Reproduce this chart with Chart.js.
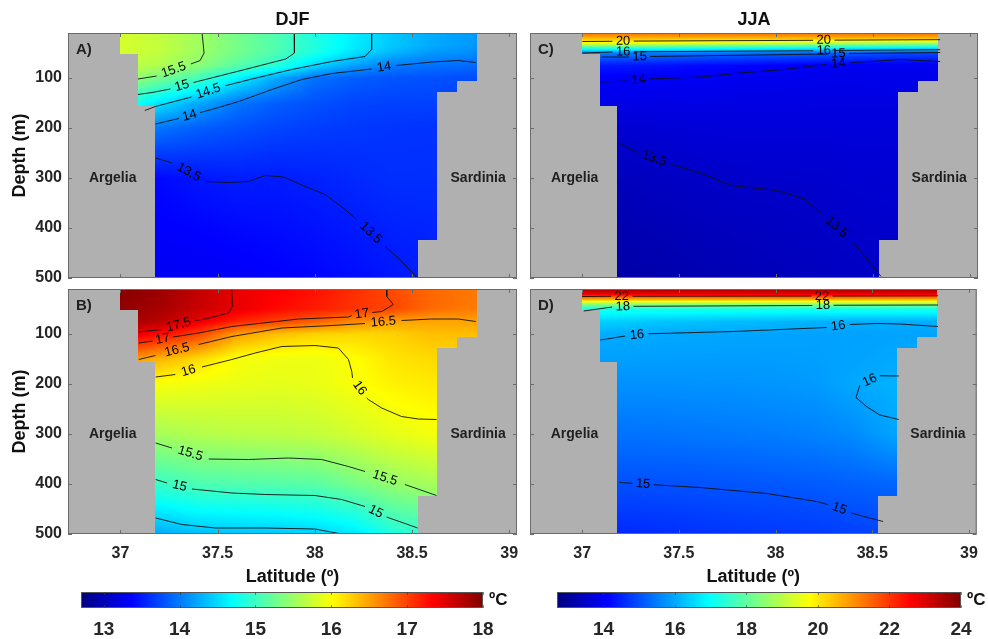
<!DOCTYPE html>
<html><head><meta charset="utf-8">
<script src="https://cdn.jsdelivr.net/npm/chart.js@4.4.1/dist/chart.umd.min.js"></script>
<style>
html,body{margin:0;padding:0;background:#fff;}
#wrap{position:relative;width:988px;height:639px;overflow:hidden;background:#fff;}
canvas{position:absolute;left:0;top:0;}
</style></head><body>
<div id="wrap">
<canvas id="pA" width="988" height="639"></canvas>
<canvas id="pB" width="988" height="639"></canvas>
<canvas id="pC" width="988" height="639"></canvas>
<canvas id="pD" width="988" height="639"></canvas>
<canvas id="cb1" width="988" height="639"></canvas>
<canvas id="cb2" width="988" height="639"></canvas>
</div>
<script>
// ---------------- DATA ----------------
const latNodes   = [37.0, 37.2, 37.4, 37.6, 37.8, 38.0, 38.2, 38.4, 38.6, 38.85];
const depthNodes = [10, 20, 30, 40, 50, 75, 100, 150, 200, 300, 400, 500];

// Temperature (ºC) at depthNodes (rows) x latNodes (cols)
const tempA = [
 [15.80,15.70,15.52,15.30,15.10,14.85,14.60,14.40,14.25,14.15],
 [15.80,15.70,15.52,15.30,15.10,14.85,14.60,14.40,14.25,14.15],
 [15.80,15.70,15.52,15.30,15.10,14.85,14.60,14.40,14.25,14.15],
 [15.80,15.70,15.52,15.30,15.10,14.85,14.58,14.38,14.22,14.12],
 [15.78,15.68,15.50,15.28,15.08,14.82,14.52,14.30,14.15,14.08],
 [15.70,15.60,15.40,15.15,14.90,14.48,14.20,14.00,13.95,13.90],
 [15.55,15.30,15.05,14.65,14.25,13.95,13.85,13.80,13.78,13.75],
 [14.95,14.55,14.25,13.98,13.85,13.78,13.72,13.70,13.70,13.70],
 [14.40,13.97,13.85,13.78,13.72,13.68,13.65,13.63,13.62,13.62],
 [13.40,13.40,13.47,13.51,13.50,13.53,13.57,13.60,13.60,13.60],
 [13.35,13.35,13.37,13.40,13.42,13.45,13.49,13.53,13.55,13.55],
 [13.30,13.30,13.30,13.32,13.35,13.38,13.42,13.47,13.52,13.52]
];
const tempB = [
 [17.95,17.85,17.65,17.45,17.35,17.25,17.10,16.95,16.80,16.70],
 [17.95,17.85,17.65,17.45,17.35,17.25,17.10,16.96,16.80,16.70],
 [17.93,17.83,17.64,17.45,17.33,17.23,17.09,16.97,16.80,16.70],
 [17.92,17.82,17.63,17.46,17.32,17.22,17.08,16.98,16.80,16.70],
 [17.90,17.80,17.62,17.45,17.30,17.20,17.08,16.97,16.78,16.68],
 [17.85,17.70,17.45,17.15,17.00,16.85,16.62,16.50,16.48,16.50],
 [17.55,17.30,17.00,16.52,16.35,16.25,16.22,16.25,16.35,16.35],
 [16.60,16.40,16.20,15.98,15.93,15.92,16.00,16.15,16.20,16.20],
 [16.20,15.97,15.93,15.90,15.88,15.90,15.98,16.08,16.12,16.12],
 [15.55,15.55,15.62,15.65,15.67,15.70,15.78,15.88,15.95,15.95],
 [14.98,14.98,15.08,15.10,15.12,15.15,15.30,15.45,15.55,15.55],
 [14.25,14.25,14.35,14.38,14.40,14.45,14.55,14.85,14.95,14.95]
];
const tempC = [
 [21.40,21.40,21.40,21.40,21.40,21.40,21.40,21.40,21.40,21.40],
 [20.60,20.60,20.60,20.60,20.60,20.60,20.60,20.60,20.60,20.60],
 [19.70,19.70,19.60,19.50,19.40,19.30,19.20,19.00,18.90,18.85],
 [17.40,17.40,17.30,17.20,17.10,17.00,16.90,16.80,16.70,16.60],
 [15.50,15.50,15.45,15.40,15.35,15.30,15.20,15.10,15.00,14.95],
 [14.40,14.35,14.30,14.20,14.15,14.08,14.02,13.98,13.95,13.95],
 [14.05,14.05,14.02,14.00,13.95,13.92,13.90,13.88,13.87,13.87],
 [13.85,13.85,13.83,13.82,13.80,13.80,13.79,13.78,13.78,13.78],
 [13.65,13.62,13.65,13.68,13.70,13.70,13.70,13.70,13.70,13.70],
 [13.38,13.38,13.45,13.49,13.53,13.54,13.56,13.60,13.62,13.62],
 [13.25,13.25,13.30,13.35,13.40,13.43,13.47,13.52,13.55,13.55],
 [13.15,13.15,13.20,13.25,13.30,13.35,13.40,13.45,13.50,13.50]
];
const tempD = [
 [23.60,23.60,23.60,23.60,23.60,23.60,23.60,23.60,23.60,23.60],
 [22.80,22.80,22.80,22.80,22.80,22.80,22.80,22.80,22.80,22.80],
 [20.80,20.80,20.80,20.80,20.80,20.80,20.80,20.80,20.80,20.80],
 [18.60,18.60,18.60,18.60,18.60,18.60,18.60,18.60,18.60,18.60],
 [17.20,17.20,17.20,17.20,17.20,17.20,17.20,17.20,17.20,17.20],
 [16.45,16.40,16.30,16.25,16.20,16.15,16.10,16.05,16.05,16.05],
 [16.05,16.00,15.99,15.97,15.95,15.93,15.90,15.90,15.92,15.92],
 [15.88,15.88,15.87,15.86,15.85,15.86,15.88,15.92,15.97,15.97],
 [15.72,15.72,15.72,15.74,15.75,15.77,15.82,15.97,16.08,16.08],
 [15.38,15.38,15.40,15.43,15.46,15.50,15.55,15.65,15.92,15.92],
 [14.99,14.99,15.00,15.02,15.05,15.08,15.12,15.18,15.22,15.22],
 [14.55,14.55,14.60,14.65,14.70,14.72,14.75,14.82,14.88,14.88]
];

// Bathymetry (water column bottom depth per latitude band)
const shelfLat    = [37.0, 37.09, 37.18, 38.53, 38.63, 38.73, 38.835];
const shelfBottom = [52, 155, 520, 424, 128, 106];

// Contour lines (null = gap holding the label)
const contoursA = [
 {level:'15.5', lat:[37.42,37.43,37.41,37.362,null,37.186,37.09], dep:[10,50,65,72,null,96,102]},
 {level:'15',   lat:[37.894,37.895,37.85,37.64,37.376,null,37.257,37.162,37.09], dep:[10,50,62,83,109,null,122,129,133]},
 {level:'14.5', lat:[38.292,38.292,38.258,38.087,37.881,37.676,37.539,null,37.365,37.18,37.125], dep:[10,43,57,67,83,102,115.5,null,138,157,165]},
 {level:'14',   lat:[38.828,38.738,38.6,38.42,null,38.292,38.087,37.933,37.779,37.608,37.47,37.41,null,37.30,37.18], dep:[69,65,68,75,null,82,91,103,123,147,163,169,null,181,192]},
 {level:'13.5', lat:[37.181,37.265,null,37.437,37.556,37.659,37.745,37.839,37.95,38.053,38.156,38.215,null,38.361,38.43,38.523], dep:[260,270,null,307,309,307,295,298,317,333,363,383,null,437,460,498]}
];
const contoursB = [
 {level:'17.5', lat:[37.573,37.575,37.556,37.437,37.385,null,37.214,37.094], dep:[10,45,58,70,73,null,91,96]},
 {level:'17',   lat:[38.369,38.37,38.404,38.344,38.295,null,38.19,38.173,37.916,37.573,37.402,37.27,null,37.165,37.094], dep:[10,25,41,55,57,null,63,66,70,85,98,106,null,114,118]},
 {level:'16.5', lat:[37.094,37.18,null,37.402,37.573,37.83,38.087,38.258,null,38.446,38.6,38.738,38.828], dep:[151,143,null,121,105,88,83,79,null,73,70,70,75]},
 {level:'16',   lat:[37.181,37.282,null,37.419,37.573,37.693,37.83,38.0,38.121,38.173,38.19,38.194,null,38.267,38.275,38.344,38.446,38.532,38.626], dep:[186,181,null,166,151,138,125,123,128,151,175,188,null,228,231,248,265,270,271]},
 {level:'15.5', lat:[37.181,37.265,null,37.454,37.659,37.864,38.035,38.173,38.258,null,38.463,38.626], dep:[318,328,null,350,351,348,351,365,375,null,401,423]},
 {level:'15',   lat:[37.181,37.24,null,37.368,37.573,37.745,38.0,38.138,38.258,null,38.369,38.529], dep:[391,398,null,410,418,421,423,431,445,null,466,488]},
 {level:'14.5', lat:[37.181,37.316,37.488,37.745,38.0,38.138], dep:[468,481,488,488,490,500]}
];
const contoursC = [
 {level:'20', lat:[37.0,37.155,null,37.265,38.19,null,38.30,38.845], dep:[27,26.6,null,26.2,24.6,null,24.3,23.4]},
 {level:'16', lat:[37.0,37.155,null,37.265,38.19,null,38.30,38.845], dep:[50,48,null,47.5,45.5,null,45,43.4]},
 {level:'15', lat:[37.1,37.24,null,37.35,38.265,null,38.375,38.845], dep:[58,58,null,57,52,null,51,49]},
 {level:'14', lat:[37.1,37.235,null,37.345,37.61,37.782,38.04,38.255,null,38.385,38.436,38.642,38.845], dep:[108,106,null,102,98,91,83,73,null,69,68,63,67]},
 {level:'13.5', lat:[37.192,37.284,null,37.456,37.61,37.765,38.006,38.144,38.23,null,38.393,38.47,38.54], dep:[230,249,null,273,290,315,325,342,370,null,427,463,497]}
];
const contoursD = [
 {level:'22', lat:[37.0,37.15,null,37.26,38.185,null,38.295,38.84], dep:[25,24.5,null,24.5,24,null,24,23.5]},
 {level:'18', lat:[37.008,37.155,null,37.265,38.19,null,38.30,38.84], dep:[54,46,null,44.6,43,null,42.5,42]},
 {level:'16', lat:[37.094,37.223,null,37.344,37.782,38.264,null,38.384,38.522,38.642,38.84], dep:[112,104,null,99.5,95,87,null,81,79,80,85]},
 {level:'16', lat:[38.637,38.539,null,38.436,38.416,38.47,38.539,38.637], dep:[184,183.5,null,202,227,245,262,271]},
 {level:'15', lat:[37.192,37.26,null,37.37,37.61,37.954,38.212,38.27,null,38.39,38.556], dep:[397,398.5,null,401.5,407,419,435,441,null,458,475]}
];

const latTicks   = [37, 37.5, 38, 38.5, 39];
const depthTicks = [100, 200, 300, 400, 500];
const cbTicksDJF = [13, 14, 15, 16, 17, 18];
const cbTicksJJA = [14, 16, 18, 20, 22, 24];
const landNames  = ['Argelia', 'Sardinia'];
const landNameLat = [36.96, 38.84];
const landNameDepth = 300;

// ---------------- RENDERING ----------------
const FONT = '"Liberation Sans", Arial, Helvetica, sans-serif';
const TXT = '#1f1f1f';
const LAND = [176, 176, 176];
const EDGE = '#6b6b6b';
Chart.defaults.font.family = FONT;

function locate(nodes, v) {
  const n = nodes.length;
  if (v <= nodes[0]) return [0, 0];
  if (v >= nodes[n - 1]) return [n - 2, 1];
  let i = 0;
  while (v > nodes[i + 1]) i++;
  return [i, (v - nodes[i]) / (nodes[i + 1] - nodes[i])];
}
function sample(grid, lat, dep) {
  const [i, fx] = locate(latNodes, lat);
  const [j, fy] = locate(depthNodes, dep);
  const a = grid[j][i], b = grid[j][i + 1], c = grid[j + 1][i], d = grid[j + 1][i + 1];
  return a * (1 - fx) * (1 - fy) + b * fx * (1 - fy) + c * (1 - fx) * fy + d * fx * fy;
}
function isWater(lat, dep) {
  for (let k = 0; k < shelfLat.length - 1; k++) {
    if (lat >= shelfLat[k] && lat < shelfLat[k + 1]) return dep <= shelfBottom[k];
  }
  return false;
}
function jet(t) {
  t = Math.max(0, Math.min(1, t));
  const f = v => Math.max(0, Math.min(1, v)) * 255;
  return [f(1.5 - Math.abs(4 * t - 3)), f(1.5 - Math.abs(4 * t - 2)), f(1.5 - Math.abs(4 * t - 1))];
}

function makePanel(id, area, grid, cmin, cmax, contours, cfg) {
  const plugin = {
    id: 'sectionField',
    beforeDatasetsDraw(chart) {
      const {ctx, chartArea: a, scales: {x, y}} = chart;
      const w = Math.round(a.right - a.left), h = Math.round(a.bottom - a.top);
      const off = document.createElement('canvas');
      off.width = w; off.height = h;
      const octx = off.getContext('2d');
      const img = octx.createImageData(w, h);
      const lats = [];
      for (let i = 0; i < w; i++) lats.push(x.getValueForPixel(a.left + i + 0.5));
      for (let j = 0; j < h; j++) {
        const dep = y.getValueForPixel(a.top + j + 0.5);
        for (let i = 0; i < w; i++) {
          const p = (j * w + i) * 4;
          const c = isWater(lats[i], dep) ? jet((sample(grid, lats[i], dep) - cmin) / (cmax - cmin)) : LAND;
          img.data[p] = c[0]; img.data[p + 1] = c[1]; img.data[p + 2] = c[2]; img.data[p + 3] = 255;
        }
      }
      octx.putImageData(img, 0, 0);
      ctx.drawImage(off, a.left, a.top);
    },
    afterDatasetsDraw(chart) {
      const {ctx, chartArea: a, scales: {x, y}} = chart;
      ctx.save();
      // contour labels
      ctx.fillStyle = '#000';
      ctx.font = '13px ' + FONT;
      ctx.textAlign = 'center'; ctx.textBaseline = 'middle';
      contours.forEach(c => {
        for (let i = 1; i < c.lat.length - 1; i++) {
          if (c.lat[i] !== null) continue;
          const x1 = x.getPixelForValue(c.lat[i - 1]), y1 = y.getPixelForValue(c.dep[i - 1]);
          const x2 = x.getPixelForValue(c.lat[i + 1]), y2 = y.getPixelForValue(c.dep[i + 1]);
          let ang = Math.atan2(y2 - y1, x2 - x1);
          if (ang > Math.PI / 2) ang -= Math.PI;
          if (ang < -Math.PI / 2) ang += Math.PI;
          ctx.save();
          ctx.translate((x1 + x2) / 2, (y1 + y2) / 2);
          ctx.rotate(ang);
          ctx.fillText(c.level, 0, 0);
          ctx.restore();
        }
      });
      // land names
      ctx.fillStyle = TXT;
      ctx.font = 'bold 14px ' + FONT;
      landNames.forEach((n, k) => ctx.fillText(n, x.getPixelForValue(landNameLat[k]), y.getPixelForValue(landNameDepth)));
      // panel letter
      ctx.font = 'bold 15px ' + FONT;
      ctx.textAlign = 'left';
      ctx.fillText(cfg.letter, a.left + 8, a.top + 17);
      // border and inward ticks
      ctx.strokeStyle = EDGE; ctx.lineWidth = 1;
      ctx.strokeRect(a.left + 0.5, a.top + 0.5, a.right - a.left - 1, a.bottom - a.top - 1);
      ctx.beginPath();
      latTicks.forEach(v => {
        const px = Math.round(x.getPixelForValue(v)) + 0.5;
        ctx.moveTo(px, a.bottom); ctx.lineTo(px, a.bottom - 4);
        ctx.moveTo(px, a.top); ctx.lineTo(px, a.top + 4);
      });
      depthTicks.forEach(v => {
        const py = Math.round(y.getPixelForValue(v)) + 0.5;
        ctx.moveTo(a.left, py); ctx.lineTo(a.left + 4, py);
        ctx.moveTo(a.right, py); ctx.lineTo(a.right - 4, py);
      });
      ctx.stroke();
      // titles
      ctx.fillStyle = '#111';
      ctx.textAlign = 'center'; ctx.textBaseline = 'middle';
      if (cfg.title) {
        ctx.font = 'bold 18px ' + FONT;
        ctx.fillText(cfg.title, (a.left + a.right) / 2, 20);
      }
      if (cfg.xTitle) {
        ctx.font = 'bold 18px ' + FONT;
        ctx.fillText('Latitude (º)', (a.left + a.right) / 2, a.bottom + 43);
      }
      if (cfg.yTitle) {
        ctx.font = 'bold 18px ' + FONT;
        ctx.save();
        ctx.translate(20, (a.top + a.bottom) / 2);
        ctx.rotate(-Math.PI / 2);
        ctx.fillText('Depth (m)', 0, 0);
        ctx.restore();
      }
      ctx.restore();
    }
  };
  return new Chart(document.getElementById(id), {
    type: 'scatter',
    data: {
      datasets: contours.map(c => ({
        label: c.level,
        data: c.lat.map((la, i) => ({x: la, y: c.dep[i]})),
        showLine: true, spanGaps: false, borderColor: '#111', borderWidth: 0.9,
        pointRadius: 0, pointHoverRadius: 0, fill: false, tension: 0
      }))
    },
    options: {
      responsive: false, animation: false, devicePixelRatio: 1,
      events: [],
      layout: {padding: {left: area.l - 60, top: area.t, right: 988 - area.r, bottom: 639 - area.b - 40}},
      plugins: {legend: {display: false}, tooltip: {enabled: false}, title: {display: false}},
      scales: {
        x: {
          type: 'linear', min: 36.73, max: 39.04,
          afterBuildTicks: s => { s.ticks = latTicks.map(v => ({value: v})); },
          afterFit: s => { s.height = 40; },
          grid: {display: false, drawTicks: false}, border: {display: false},
          ticks: {display: cfg.showX, autoSkip: false, maxRotation: 0, padding: 10, color: '#262626',
                  font: {size: 16, weight: 'bold'}, callback: v => String(v)}
        },
        y: {
          type: 'linear', reverse: true, min: 10, max: 500,
          afterBuildTicks: s => { s.ticks = depthTicks.map(v => ({value: v})); },
          afterFit: s => { s.width = 60; },
          grid: {display: false, drawTicks: false}, border: {display: false},
          ticks: {display: cfg.showY, autoSkip: false, padding: 6, color: '#262626',
                  font: {size: 16, weight: 'bold'}, callback: v => String(v)}
        }
      }
    },
    plugins: [plugin]
  });
}

function makeColorbar(id, area, cmin, cmax, ticks) {
  const plugin = {
    id: 'cbar',
    afterDraw(chart) {
      const {ctx, chartArea: a, scales: {x}} = chart;
      ctx.save();
      for (let px = Math.round(a.left); px < Math.round(a.right); px++) {
        const c = jet((x.getValueForPixel(px + 0.5) - cmin) / (cmax - cmin));
        ctx.fillStyle = 'rgb(' + Math.round(c[0]) + ',' + Math.round(c[1]) + ',' + Math.round(c[2]) + ')';
        ctx.fillRect(px, a.top, 1, a.bottom - a.top);
      }
      ctx.strokeStyle = '#555'; ctx.lineWidth = 1;
      ctx.strokeRect(Math.round(a.left) + 0.5, Math.round(a.top) + 0.5, Math.round(a.right - a.left) - 1, Math.round(a.bottom - a.top) - 1);
      ctx.beginPath();
      ticks.forEach(v => {
        const px = Math.round(x.getPixelForValue(v)) + 0.5;
        ctx.moveTo(px, a.bottom); ctx.lineTo(px, a.bottom - 3);
        ctx.moveTo(px, a.top); ctx.lineTo(px, a.top + 3);
      });
      ctx.strokeStyle = 'rgba(60,60,60,0.6)';
      ctx.stroke();
      ctx.fillStyle = '#111';
      ctx.font = 'bold 17px ' + FONT;
      ctx.textAlign = 'left'; ctx.textBaseline = 'middle';
      ctx.fillText('ºC', a.right + 6, (a.top + a.bottom) / 2);
      ctx.restore();
    }
  };
  return new Chart(document.getElementById(id), {
    type: 'scatter',
    data: {datasets: []},
    options: {
      responsive: false, animation: false, devicePixelRatio: 1, events: [],
      layout: {padding: {left: area.l, top: area.t, right: 988 - area.r, bottom: 639 - area.b - 32}},
      plugins: {legend: {display: false}, tooltip: {enabled: false}},
      scales: {
        x: {
          type: 'linear', min: cmin, max: cmax,
          afterBuildTicks: s => { s.ticks = ticks.map(v => ({value: v})); },
          afterFit: s => { s.height = 32; },
          grid: {display: false, drawTicks: false}, border: {display: false},
          ticks: {autoSkip: false, maxRotation: 0, padding: 10, color: '#262626',
                  font: {size: 19, weight: 'bold'}, callback: v => String(v)}
        },
        y: {display: false, min: 0, max: 1}
      }
    },
    plugins: [plugin]
  });
}

makePanel('pA', {l: 68, t: 33, r: 517, b: 278}, tempA, 12.7, 18, contoursA, {letter: 'A)', title: 'DJF', showX: false, showY: true, yTitle: true});
makePanel('pB', {l: 68, t: 289, r: 517, b: 534}, tempB, 12.7, 18, contoursB, {letter: 'B)', showX: true, showY: true, yTitle: true, xTitle: true});
makePanel('pC', {l: 530, t: 33, r: 978, b: 278}, tempC, 12.7, 24, contoursC, {letter: 'C)', title: 'JJA', showX: false, showY: false});
makePanel('pD', {l: 530, t: 289, r: 978, b: 534}, tempD, 12.7, 24, contoursD, {letter: 'D)', showX: true, showY: false, xTitle: true});
makeColorbar('cb1', {l: 81, t: 592, r: 483, b: 608}, 12.7, 18, cbTicksDJF);
makeColorbar('cb2', {l: 557, t: 592, r: 961, b: 608}, 12.7, 24, cbTicksJJA);
</script>
</body></html>
